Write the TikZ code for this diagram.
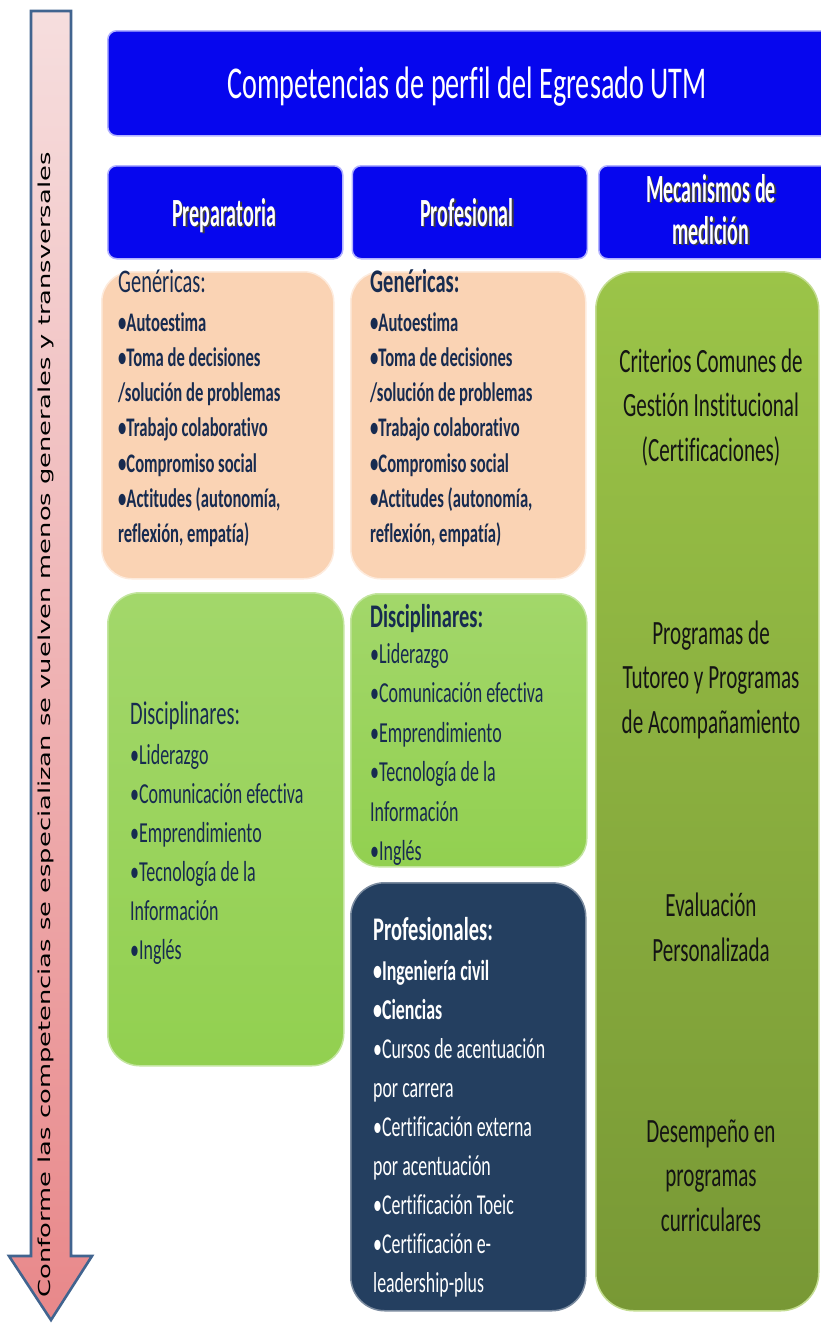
\documentclass[tikz,border=0pt]{standalone}
\usepackage{fontspec}
\setmainfont{Carlito}[FakeStretch=0.62, Ligatures=NoCommon]
\newfontfamily\headfont{Carlito}[FakeStretch=0.5, Ligatures=NoCommon]
\newfontfamily\arrowfont{DejaVu Sans}[FakeStretch=1.56]
\usetikzlibrary{positioning}

\definecolor{boxblue}{RGB}{6,6,238}
\definecolor{peach}{RGB}{250,211,180}
\definecolor{lgreen}{RGB}{146,208,80}
\definecolor{navy}{RGB}{36,63,96}
\definecolor{olivetop}{RGB}{155,196,72}
\definecolor{olivebot}{RGB}{120,152,53}
\definecolor{textnavy}{RGB}{23,43,80}
\definecolor{arrowtop}{RGB}{246,222,222}
\definecolor{arrowbot}{RGB}{232,136,138}
\definecolor{arrowline}{RGB}{65,100,143}

\newcommand{\shadowtxt}[1]{\makebox[0pt][l]{\hspace{1.6pt}\raisebox{-1.6pt}{\textcolor{black!75}{#1}}}#1}

\tikzset{
    box/.style={anchor=north west, inner sep=0pt, line width=1.5pt},
    bluebox/.style={box, fill=boxblue, draw=blue!30!white, rounded corners=9pt},
    peachbox/.style={box, fill=peach, draw=peach!45!white, rounded corners=30pt},
    greenbox/.style={box, top color=lgreen!85!white, bottom color=lgreen, draw=lgreen!55!white, rounded corners=32pt},
    navybox/.style={box, fill=navy, draw=navy!60!white, rounded corners=34pt},
    olivebox/.style={box, top color=olivetop, bottom color=olivebot, draw=olivetop!60!white, rounded corners=38pt},
    heading/.style={inner sep=0pt, anchor=base west, text=textnavy, font=\fontsize{33}{36}\selectfont},
    items/.style={inner sep=0pt, anchor=base west, align=left, text=textnavy},
    measure/.style={inner sep=0pt, anchor=base, align=center, text=black!92,
        font=\fontsize{34}{44.5}\selectfont},
}

\begin{document}
\begin{tikzpicture}[x=1pt,y=-1pt]
\useasboundingbox (0,0) rectangle (820,1323);

% arrow at the left
\draw[draw=arrowline, line width=2.6pt, line join=miter, top color=arrowtop, bottom color=arrowbot]
    (31,11) -- (71,11) -- (71,1256) -- (92,1256) -- (51,1320) -- (9,1256) -- (31,1256) -- cycle;
\node (arrowlbl) at (46,725) [rotate=90, inner sep=0pt, font=\arrowfont\fontsize{16.5}{18}\selectfont]
    {Conforme las competencias se especializan se vuelven menos generales y transversales};

% title and column headers
\node (title) at (107,30) [bluebox, minimum width=730pt, minimum height=105pt] {};
\node (titletxt) at (467,98) [anchor=base, inner sep=0pt, text=white, font=\fontsize{45.5}{48}\selectfont]
    {Competencias de perfil del Egresado UTM};

\node (hprep) at (107,165) [bluebox, minimum width=235pt, minimum height=93pt] {};
\node (hprof) [bluebox, minimum width=235pt, minimum height=93pt, right=8pt of hprep.north east, anchor=north west] {};
\node (hmec) [bluebox, minimum width=240pt, minimum height=93pt, right=10pt of hprof.north east, anchor=north west] {};
\node (hpreptxt) at (224,226) [anchor=base, inner sep=0pt, text=white, font=\headfont\bfseries\fontsize{40}{42}\selectfont]
    {\shadowtxt{Preparatoria}};
\node (hproftxt) at (467,226) [anchor=base, inner sep=0pt, text=white, font=\headfont\bfseries\fontsize{40}{42}\selectfont]
    {\shadowtxt{Profesional}};
% base of a two-line node is its last line
\node (hmectxt) at (711,244) [anchor=base, inner sep=0pt, align=center, text=white, font=\headfont\bfseries\fontsize{40}{42}\selectfont]
    {\shadowtxt{Mecanismos de}\\\shadowtxt{medición}};

% Preparatoria column
\node (genprep) at (101,271) [peachbox, minimum width=232pt, minimum height=307pt] {};
\node (genpreph) at (118,292) [heading] {Genéricas:};
\node (genprepl) at ([yshift=-250.8pt]genpreph.base west) [items, font=\bfseries\fontsize{26.8}{35.3}\selectfont]
    {•Autoestima\\•Toma de decisiones\\/solución de problemas\\•Trabajo colaborativo\\•Compromiso social\\•Actitudes (autonomía,\\reflexión, empatía)};

\node (disprep) at (107,592) [greenbox, minimum width=236pt, minimum height=473pt] {};
\node (dispreph) at (130,724) [heading] {Disciplinares:};
\node (disprepl) at ([yshift=-235pt]dispreph.base west) [items, font=\fontsize{29}{39}\selectfont]
    {•Liderazgo\\•Comunicación efectiva\\•Emprendimiento\\•Tecnología de la\\Información\\•Inglés};

% Profesional column
\node (genprof) at (350,271) [peachbox, minimum width=235pt, minimum height=307pt] {};
\node (genprofh) at (370,292) [heading, font=\bfseries\fontsize{33}{36}\selectfont] {Genéricas:};
\node (genprofl) at ([yshift=-250.8pt]genprofh.base west) [items, font=\bfseries\fontsize{26.8}{35.3}\selectfont]
    {•Autoestima\\•Toma de decisiones\\/solución de problemas\\•Trabajo colaborativo\\•Compromiso social\\•Actitudes (autonomía,\\reflexión, empatía)};

\node (disprof) at (350,593) [greenbox, minimum width=236pt, minimum height=273pt, rounded corners=28pt] {};
\node (disprofh) at (370,627) [heading, font=\bfseries\fontsize{33}{36}\selectfont] {Disciplinares:};
\node (disprofl) at ([yshift=-233.5pt]disprofh.base west) [items, font=\fontsize{29}{39.5}\selectfont]
    {•Liderazgo\\•Comunicación efectiva\\•Emprendimiento\\•Tecnología de la\\Información\\•Inglés};

\node (proprof) at (350,882) [navybox, minimum width=235pt, minimum height=428pt] {};
\node (proprofh) at (373,940) [heading, text=white, font=\bfseries\fontsize{33}{36}\selectfont] {Profesionales:};
\node (proprofl) at ([yshift=-352.8pt]proprofh.base west) [items, text=white, font=\fontsize{28.8}{39.1}\selectfont]
    {\textbf{•Ingeniería civil}\\\textbf{•Ciencias}\\•Cursos de acentuación\\por carrera\\•Certificación externa\\por acentuación\\•Certificación Toeic\\•Certificación e-\\leadership-plus};

% Mecanismos de medicion column
\node (medic) at (595,271) [olivebox, minimum width=223pt, minimum height=1039pt] {};
\node (med1) at (711,461) [measure] {Criterios Comunes de\\Gestión Institucional\\(Certificaciones)};
\node (med2) at (711,733) [measure] {Programas de\\Tutoreo y Programas\\de Acompañamiento};
\node (med3) at (711,961) [measure] {Evaluación\\Personalizada};
\node (med4) at (711,1231) [measure] {Desempeño en\\programas\\curriculares};
\end{tikzpicture}
\end{document}
